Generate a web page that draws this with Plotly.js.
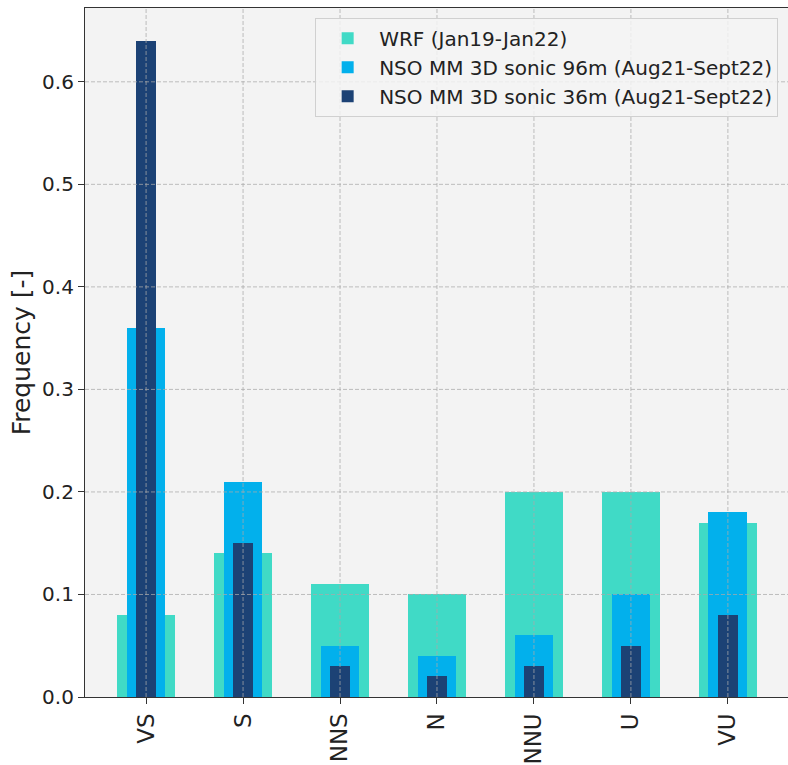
<!DOCTYPE html>
<html><head><meta charset="utf-8">
<script src="https://cdn.plot.ly/plotly-3.0.1.min.js"></script>
<style>body{margin:0;background:#fff}#c{width:788px;height:765px}</style>
</head><body><div id="c"></div>
<script>
const categories = ["VS","S","NNS","N","NNU","U","VU"];
const wrf = [0.08,0.14,0.11,0.10,0.20,0.20,0.17];
const nso96 = [0.36,0.21,0.05,0.04,0.06,0.10,0.18];
const nso36 = [0.64,0.15,0.03,0.02,0.03,0.05,0.08];
const yTicks = [0.0,0.1,0.2,0.3,0.4,0.5,0.6];
const names = ["WRF (Jan19-Jan22)","NSO MM 3D sonic 96m (Aug21-Sept22)","NSO MM 3D sonic 36m (Aug21-Sept22)"];

const traces = [
  {type:'bar',x:categories,y:wrf,width:0.6,name:names[0],marker:{color:'#40DAC6'}},
  {type:'bar',x:categories,y:nso96,width:0.4,name:names[1],marker:{color:'#02B0EC'}},
  {type:'bar',x:categories,y:nso36,width:0.2,name:names[2],marker:{color:'#1C4275'}}
];
const gridStyle = {color:'rgba(170,170,170,0.75)',width:1,dash:'4px,2px'};
const shapes = [];
categories.forEach(c=>shapes.push({type:'line',layer:'above',xref:'x',yref:'paper',x0:c,x1:c,y0:0,y1:1,line:gridStyle}));
yTicks.slice(1).forEach(v=>shapes.push({type:'line',layer:'above',xref:'paper',yref:'y',x0:0,x1:1,y0:v,y1:v,line:gridStyle}));

const layout = {
  width:788,height:765,
  margin:{l:85,r:0,t:8,b:68},
  paper_bgcolor:'#ffffff',plot_bgcolor:'#f3f3f3',
  barmode:'overlay',bargap:0,
  font:{family:'DejaVu Sans',color:'#222'},
  showlegend:true,
  legend:{x:0.986,xanchor:'right',y:0.986,yanchor:'top',bgcolor:'rgba(243,243,243,0.85)',bordercolor:'#d0d0d0',borderwidth:1,font:{size:20,family:'DejaVu Sans',color:'#222'},traceorder:'normal',tracegroupgap:0,itemwidth:53},
  xaxis:{type:'category',range:[-0.63,6.62],tickangle:-90,tickfont:{size:23},showgrid:false,
    ticks:'outside',ticklen:6,tickcolor:'#333',showline:true,linecolor:'#333',linewidth:1.2,mirror:true,zeroline:false},
  yaxis:{range:[0,0.672],tickvals:yTicks,ticktext:yTicks.map(v=>v.toFixed(1)),tickfont:{size:20},showgrid:false,
    ticks:'outside',ticklen:6,tickcolor:'#333',showline:true,linecolor:'#333',linewidth:1.2,mirror:true,zeroline:false,
    title:{text:'Frequency [-]',font:{size:25},standoff:4}},
  shapes:shapes
};
Plotly.newPlot('c',traces,layout,{displayModeBar:false});
</script></body></html>
